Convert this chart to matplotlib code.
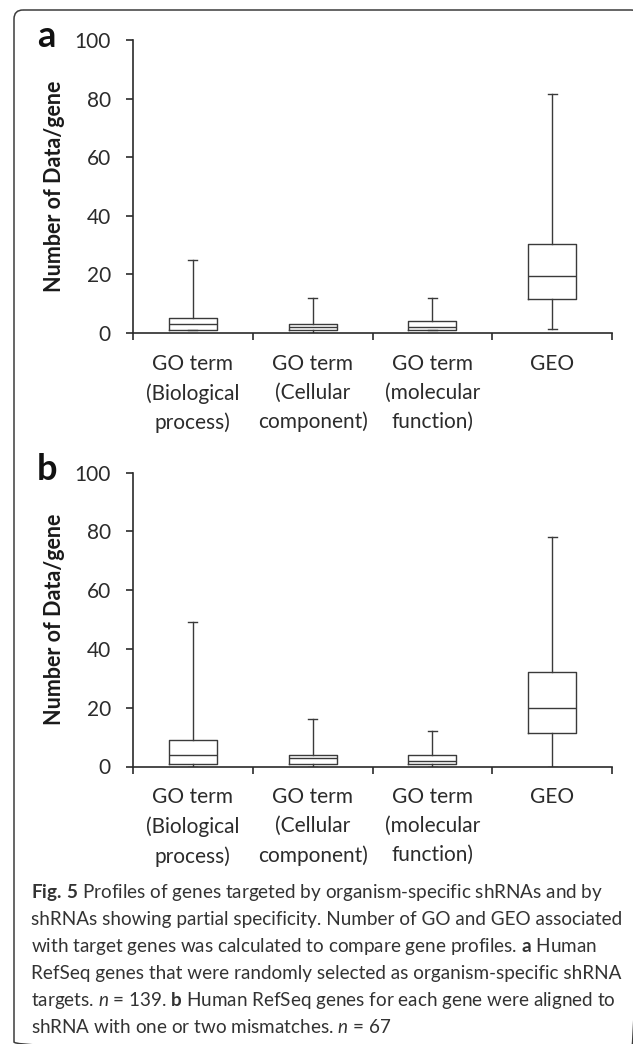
"""Box plots of GO / GEO counts per gene (Fig. 5 a/b) with caption."""

import matplotlib

matplotlib.use("Agg")

import matplotlib.pyplot as plt
from matplotlib.patches import FancyBboxPatch

plt.rcParams["font.family"] = ["Lato", "DejaVu Sans"]
plt.rcParams["mathtext.fontset"] = "custom"
plt.rcParams["mathtext.rm"] = "Lato"
plt.rcParams["mathtext.it"] = "Lato:italic"
plt.rcParams["mathtext.bf"] = "Lato:bold"

categories = [
    "GO term\n(Biological\nprocess)",
    "GO term\n(Cellular\ncomponent)",
    "GO term\n(molecular\nfunction)",
    "GEO",
]

# panel a: organism-specific shRNA targets (n = 139)
a_whishi = [25, 12, 12, 81.5]
a_q3 = [5, 3, 4, 30.5]
a_med = [3, 2, 2, 19.5]
a_q1 = [1, 1, 1, 11.5]
a_whislo = [1, 0, 1, 1.5]

# panel b: shRNAs with one or two mismatches (n = 67)
b_whishi = [49, 16, 12, 78]
b_q3 = [9, 4, 4, 32]
b_med = [4, 3, 2, 20]
b_q1 = [1, 1, 1, 11.5]
b_whislo = [0, 0, 0, 0]

y_ticks = [0, 20, 40, 60, 80, 100]

caption_lines = [
    r"$\mathbf{Fig.\,5}$ Profiles of genes targeted by organism-specific shRNAs and by",
    "shRNAs showing partial specificity. Number of GO and GEO associated",
    r"with target genes was calculated to compare gene profiles. $\mathbf{a}$ Human",
    "RefSeq genes that were randomly selected as organism-specific shRNA",
    r"targets. $n$ = 139. $\mathbf{b}$ Human RefSeq genes for each gene were aligned to",
    r"shRNA with one or two mismatches. $n$ = 67",
]

INK = "#2b2b2b"
W, H = 633, 1044


def box_panel(ax, whislo, q1, med, q3, whishi):
    stats = [
        dict(whislo=lo, q1=a, med=m, q3=b, whishi=hi, fliers=[])
        for lo, a, m, b, hi in zip(whislo, q1, med, q3, whishi)
    ]
    line = dict(color="#3a3a3a", linewidth=1.0)
    ax.bxp(
        stats,
        positions=range(1, len(stats) + 1),
        widths=0.4,
        capwidths=0.075,
        showfliers=False,
        boxprops=line,
        whiskerprops=line,
        capprops=line,
        medianprops=line,
    )
    ax.set_xlim(0.5, len(stats) + 0.5)
    ax.set_ylim(0, 100)
    ax.set_yticks(y_ticks)
    ax.set_xticks([i + 0.5 for i in range(len(stats) + 1)])
    ax.set_xticklabels([])
    ax.set_xticks(range(1, len(stats) + 1), minor=True)
    ax.set_xticklabels(categories, minor=True, fontsize=15, color=INK)
    for lbl in ax.get_xticklabels(minor=True):
        lbl.set_linespacing(1.55)
    ax.tick_params(axis="x", which="major", direction="out", length=5, width=1.2, color=INK)
    ax.tick_params(axis="x", which="minor", length=0, pad=15)
    ax.tick_params(axis="y", direction="out", length=5, width=1.2, color=INK,
                   pad=11, labelsize=15, labelcolor=INK)
    for side in ("top", "right"):
        ax.spines[side].set_visible(False)
    for side in ("left", "bottom"):
        ax.spines[side].set_linewidth(1.2)
        ax.spines[side].set_color(INK)
    ax.set_ylabel("Number of Data/gene", fontsize=15.5, fontweight="bold", color="#1a1a1a")
    ax.yaxis.set_label_coords(-0.142, 0.5)
    ax.patch.set_alpha(0)


fig = plt.figure(figsize=(W / 100, H / 100), dpi=100)

# pixel-space overlay for the frame, panel letters and caption
bg = fig.add_axes([0, 0, 1, 1])
bg.set_xlim(0, W)
bg.set_ylim(H, 0)
bg.axis("off")
bg.add_patch(FancyBboxPatch((14, 10), 626, 1041,
                            boxstyle="round,pad=0,rounding_size=9",
                            facecolor="none", edgecolor="#3c3c3c", linewidth=1.1))
bg.text(37, 47, "a", fontsize=26, fontweight="bold", color="#111111", va="baseline")
bg.text(37, 480, "b", fontsize=26, fontweight="bold", color="#111111", va="baseline")
for i, line in enumerate(caption_lines):
    bg.text(31, 898 + 27 * i, line, fontsize=13.6, color="#333333", va="baseline")

ax_a = fig.add_axes([133 / W, 1 - 333 / H, 479 / W, 293 / H])
box_panel(ax_a, a_whislo, a_q1, a_med, a_q3, a_whishi)

ax_b = fig.add_axes([133 / W, 1 - 766.5 / H, 479 / W, 294 / H])
box_panel(ax_b, b_whislo, b_q1, b_med, b_q3, b_whishi)

fig.savefig("out.png", dpi=100)
